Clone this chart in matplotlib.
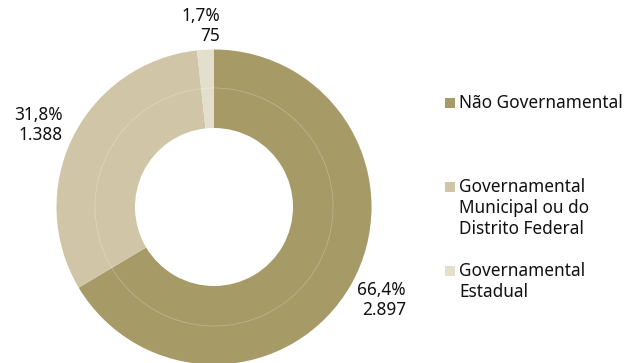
import matplotlib
matplotlib.use("Agg")
import matplotlib.pyplot as plt
from matplotlib.patches import Circle, Rectangle

# data
categories = ['Não Governamental',
              'Governamental\nMunicipal ou do\nDistrito Federal',
              'Governamental\nEstadual']
values = [2897, 1388, 75]
pct_labels = ['66,4%', '31,8%', '1,7%']
count_labels = ['2.897', '1.388', '75']
colors = ['#A69A67', '#D0C6A7', '#E3DFCC']

W, H = 624, 363
fig = plt.figure(figsize=(W / 100, H / 100), dpi=100)
ax = fig.add_axes([0, 0, 1, 1])

cx, cy = 214, H - 207
r_out, r_in = 157.5, 79

ax.pie(values, colors=colors, startangle=90, counterclock=False,
       center=(cx, cy), radius=r_out,
       wedgeprops=dict(width=r_out - r_in, linewidth=0))
# faint inner ring line
ax.add_patch(Circle((cx, cy), 119, fill=False, edgecolor='white',
                    lw=0.5, alpha=0.3))

ax.set_xlim(0, W)
ax.set_ylim(0, H)
ax.set_aspect('equal')
ax.axis('off')

font = 'Noto Sans'
fs = 12.4

# value labels (percent + count)
label_pos = [(406, H - 281, 'right'), (63, H - 106, 'right'), (220, H - 7, 'right')]
for (x, y, ha), p, c in zip(label_pos, pct_labels, count_labels):
    ax.text(x, y, p + '\n' + c, ha=ha, va='top', fontsize=fs,
            family=font, color='#111111', linespacing=1.15)

# legend
leg_y = [H - 94, H - 178, H - 262]
for y, cat, col in zip(leg_y, categories, colors):
    ax.add_patch(Rectangle((445, y - 14), 10, 10, color=col, lw=0))
    ax.text(459, y, cat, ha='left', va='top', fontsize=fs, family=font,
            color='#111111', linespacing=1.2)

fig.savefig('out.png', dpi=100)
